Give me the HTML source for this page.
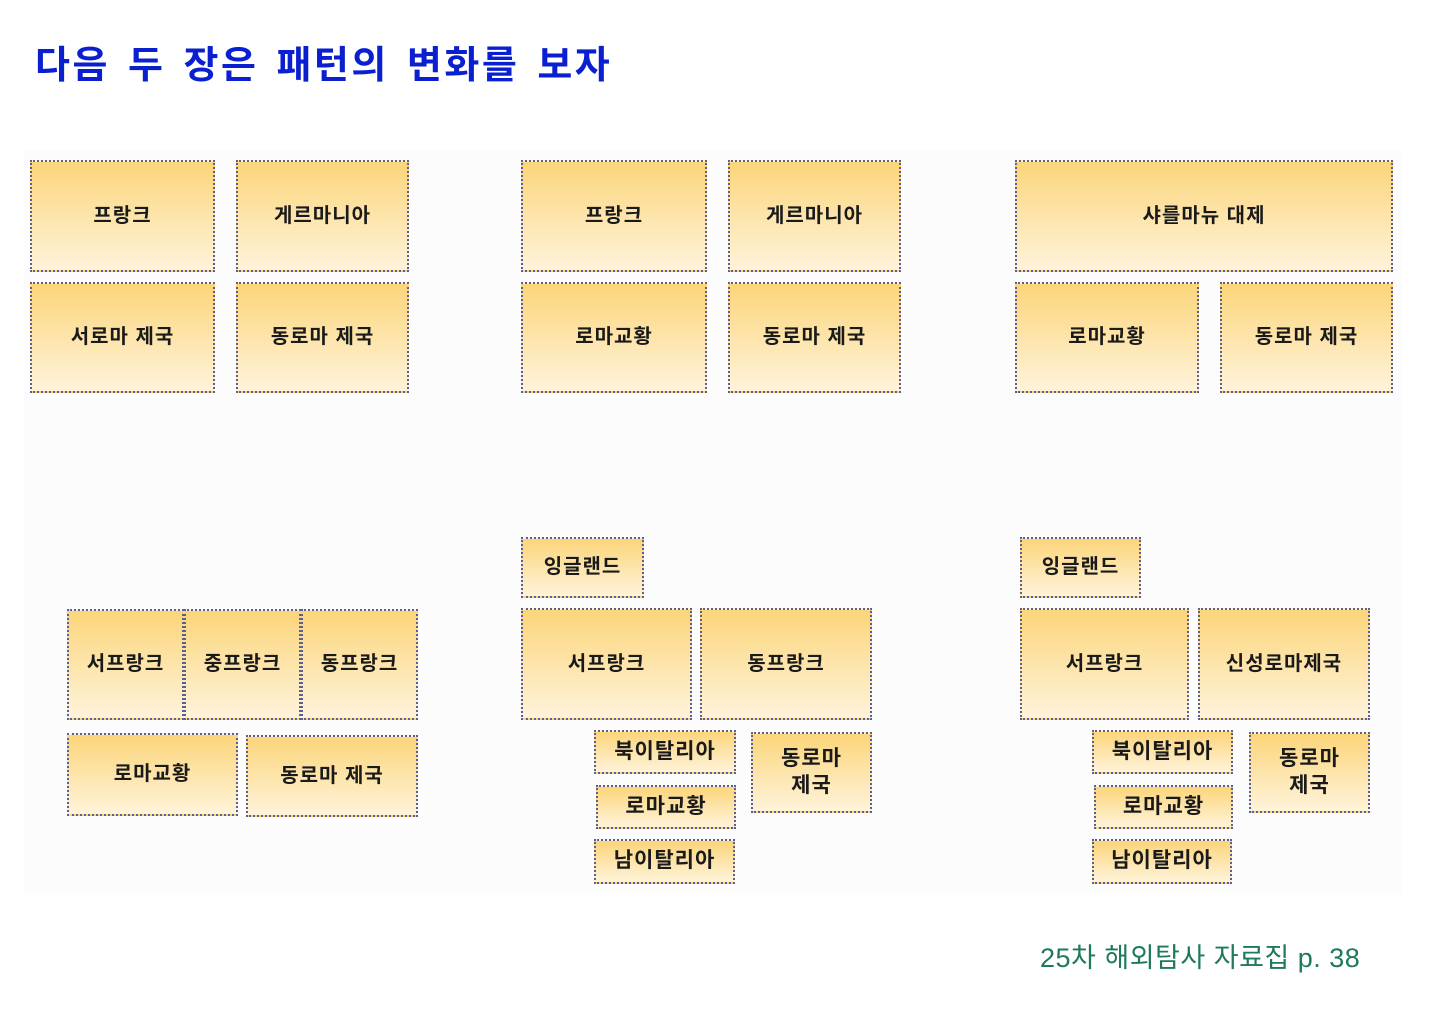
<!DOCTYPE html>
<html><head><meta charset="utf-8"><style>
html,body{margin:0;padding:0;background:#fff;}
body{width:1440px;height:1018px;position:relative;overflow:hidden;font-family:"Liberation Sans","Noto Sans CJK KR",sans-serif;}
.bg{position:absolute;left:24px;top:150px;width:1378px;height:745px;background:#fcfcfc;}
.b{position:absolute;box-sizing:border-box;border:2px dotted #5a6090;background:linear-gradient(to bottom,#fcd57a 0%,#fde7b4 60%,#fef3da 100%);display:flex;align-items:center;justify-content:center;text-align:center;font-weight:bold;color:#1a1a1a;font-size:20px;line-height:1.25;letter-spacing:1px;}
.s{font-size:21px;}
h1{position:absolute;left:35px;top:34px;margin:0;font-size:38px;font-weight:bold;color:#0a1fd0;letter-spacing:2.5px;word-spacing:5px;}
.f{position:absolute;left:1040px;top:936px;font-size:27px;color:#1e7a5a;letter-spacing:0.5px;}
</style></head><body>
<div class="bg"></div>
<h1>다음 두 장은 패턴의 변화를 보자</h1>

<div class="b" style="left:30px;top:160px;width:185px;height:112px">프랑크</div>
<div class="b" style="left:236px;top:160px;width:173px;height:112px">게르마니아</div>
<div class="b" style="left:30px;top:282px;width:185px;height:111px">서로마 제국</div>
<div class="b" style="left:236px;top:282px;width:173px;height:111px">동로마 제국</div>

<div class="b" style="left:521px;top:160px;width:186px;height:112px">프랑크</div>
<div class="b" style="left:728px;top:160px;width:173px;height:112px">게르마니아</div>
<div class="b" style="left:521px;top:282px;width:186px;height:111px">로마교황</div>
<div class="b" style="left:728px;top:282px;width:173px;height:111px">동로마 제국</div>

<div class="b" style="left:1015px;top:160px;width:378px;height:112px">샤를마뉴 대제</div>
<div class="b" style="left:1015px;top:282px;width:184px;height:111px">로마교황</div>
<div class="b" style="left:1220px;top:282px;width:173px;height:111px">동로마 제국</div>

<div class="b" style="left:67px;top:609px;width:117px;height:111px">서프랑크</div>
<div class="b" style="left:184px;top:609px;width:117px;height:111px">중프랑크</div>
<div class="b" style="left:301px;top:609px;width:117px;height:111px">동프랑크</div>
<div class="b" style="left:67px;top:733px;width:171px;height:83px">로마교황</div>
<div class="b" style="left:246px;top:735px;width:172px;height:82px">동로마 제국</div>

<div class="b" style="left:521px;top:537px;width:123px;height:61px">잉글랜드</div>
<div class="b" style="left:521px;top:608px;width:171px;height:112px">서프랑크</div>
<div class="b" style="left:700px;top:608px;width:172px;height:112px">동프랑크</div>
<div class="b s" style="left:594px;top:730px;width:142px;height:44px">북이탈리아</div>
<div class="b s" style="left:596px;top:785px;width:140px;height:44px">로마교황</div>
<div class="b s" style="left:594px;top:839px;width:141px;height:45px">남이탈리아</div>
<div class="b s" style="left:751px;top:732px;width:121px;height:81px">동로마<br>제국</div>

<div class="b" style="left:1020px;top:537px;width:121px;height:61px">잉글랜드</div>
<div class="b" style="left:1020px;top:608px;width:169px;height:112px">서프랑크</div>
<div class="b" style="left:1198px;top:608px;width:172px;height:112px">신성로마제국</div>
<div class="b s" style="left:1092px;top:730px;width:141px;height:44px">북이탈리아</div>
<div class="b s" style="left:1094px;top:785px;width:139px;height:44px">로마교황</div>
<div class="b s" style="left:1092px;top:839px;width:140px;height:45px">남이탈리아</div>
<div class="b s" style="left:1249px;top:732px;width:121px;height:81px">동로마<br>제국</div>

<div class="f">25차 해외탐사 자료집 p. 38</div>
</body></html>
